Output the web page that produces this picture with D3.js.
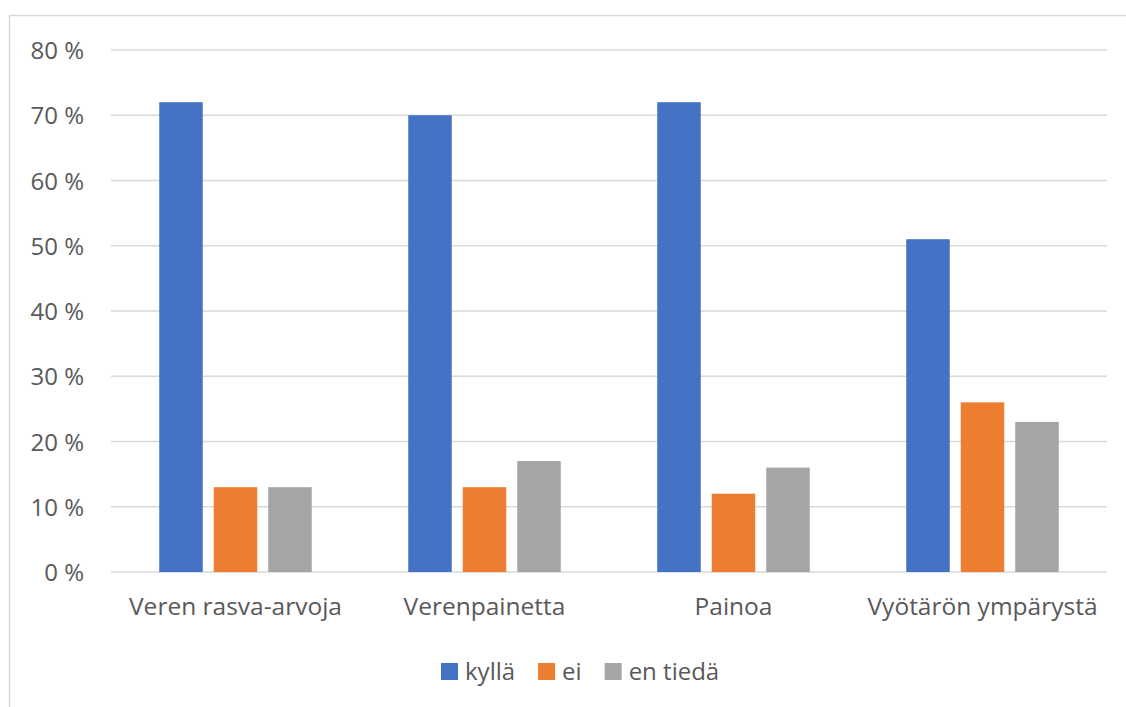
<!DOCTYPE html>
<html><head><meta charset="utf-8">
<script src="https://cdn.jsdelivr.net/npm/d3@7"></script>
<style>body{margin:0;background:#fff}svg{display:block}</style>
</head><body>
<svg id="c" width="1126" height="707"></svg>
<script>
const categories = ["Veren rasva-arvoja", "Verenpainetta", "Painoa", "Vyötärön ympärystä"];
const seriesNames = ["kyllä", "ei", "en tiedä"];
const kylla = [72, 70, 72, 51];
const ei = [13, 13, 12, 26];
const enTieda = [13, 17, 16, 23];
const yTicks = [0, 10, 20, 30, 40, 50, 60, 70, 80];
const colors = ["#4472C4", "#ED7D31", "#A5A5A5"];

const series = [kylla, ei, enTieda];
const svg = d3.select("#c");
const font = "'Open Sans', sans-serif";
const txt = "#595959";

// chart border
svg.append("path").attr("d", "M9.5,707 V15.5 H1126").attr("fill", "none").attr("stroke", "#d9d9d9").attr("stroke-width", 1.5);

const x0 = d3.scaleBand().domain(categories).range([111, 1107]).paddingInner(0).paddingOuter(0);
const y = d3.scaleLinear().domain([0, 80]).range([572, 50]);
const bw = 43.5, gap = 11;

// gridlines
svg.append("g").selectAll("line").data(yTicks).join("line")
  .attr("x1", 111).attr("x2", 1107)
  .attr("y1", d => y(d)).attr("y2", d => y(d))
  .attr("stroke", "#d9d9d9").attr("stroke-width", 1.5);

// y axis labels
const yAxis = d3.axisLeft(y).tickValues(yTicks).tickSize(0).tickPadding(0).tickFormat(d => d + " %");
const ya = svg.append("g").attr("transform", "translate(84,0)").call(yAxis);
ya.select(".domain").remove();
ya.selectAll("text").attr("font-family", font).attr("font-size", 24).attr("fill", txt).attr("dy", "0.36em");

// bars
categories.forEach((c, i) => {
  const cx = x0(c) + x0.bandwidth() / 2;
  const groupW = 3 * bw + 2 * gap;
  series.forEach((s, j) => {
    svg.append("rect")
      .attr("x", cx - groupW / 2 + j * (bw + gap))
      .attr("y", y(s[i]))
      .attr("width", bw)
      .attr("height", y(0) - y(s[i]))
      .attr("fill", colors[j]);
  });
});

// x axis labels
const xAxis = d3.axisBottom(x0).tickSize(0).tickPadding(0);
const xa = svg.append("g").attr("transform", "translate(0,598)").call(xAxis);
xa.select(".domain").remove();
xa.selectAll("text").attr("font-family", font).attr("font-size", 24.5).attr("fill", txt).attr("dy", "0.71em");

// legend
const lg = svg.append("g");
let lx = 441;
seriesNames.forEach((n, j) => {
  lg.append("rect").attr("x", lx).attr("y", 663).attr("width", 17).attr("height", 17).attr("fill", colors[j]);
  const t = lg.append("text").attr("x", lx + 24).attr("y", 672).attr("dy", "0.34em")
    .attr("font-family", font).attr("font-size", 24).attr("fill", txt).text(n);
  lx += 24 + t.node().getComputedTextLength() + 23;
});
</script>
</body></html>
